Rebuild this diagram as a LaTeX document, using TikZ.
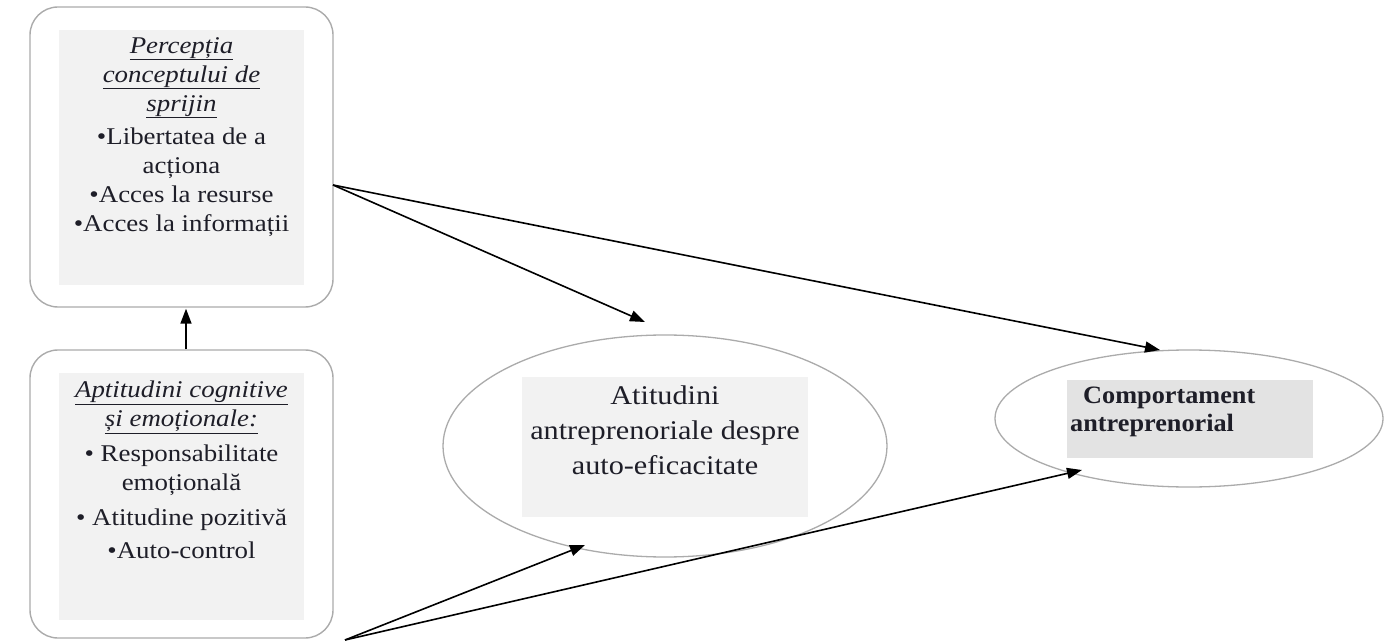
\documentclass[tikz,border=0pt]{standalone}
\usepackage{fontspec}
\setmainfont{Liberation Serif}
\newfontfamily\boxfont[FakeStretch=1.12]{Liberation Serif}
\newfontfamily\ovalfont[FakeStretch=1.12]{Liberation Serif}
\newfontfamily\headfont[FakeStretch=1.05]{Liberation Serif}
\usetikzlibrary{arrows.meta,shapes.geometric}

\definecolor{edgegray}{HTML}{ABABAB}
\definecolor{panel}{HTML}{F2F2F2}
\definecolor{paneldark}{HTML}{E3E3E3}
\definecolor{ink}{HTML}{1E1E28}

\begin{document}
\begin{tikzpicture}[x=1pt,y=-1pt,
  roundbox/.style={draw=edgegray, line width=1.4pt, rounded corners=28pt,
    minimum width=303pt, minimum height=300pt, inner sep=0pt},
  oval/.style={draw=edgegray, line width=1.3pt, ellipse, inner sep=0pt},
  panelbox/.style={fill=#1, inner sep=0pt, draw=none},
  txt/.style={text=ink, align=center, inner sep=0pt, anchor=north},
  link/.style={draw=black, line width=1.6pt, -{Triangle[length=15pt,width=11pt]}}
]
% page
\path[use as bounding box, fill=white] (0,0) rectangle (1392,644);

% left column: two rounded boxes
\node[roundbox, minimum height=300pt] (perc) at (181.5,157) {};
\node[panelbox=panel, minimum width=245pt, minimum height=255pt] (percbg) at (181.5,157.5) {};
\node[txt, font=\fontsize{24}{29}\boxfont] (perctxt) at (181.5,37) {%
  \underline{\itshape Percepția}\\
  \underline{\itshape conceptului de}\\
  \underline{\itshape sprijin}\\[4pt]
  •Libertatea de a\\
  acționa\\
  •Acces la resurse\\
  •Acces la informații};

\node[roundbox, minimum height=288pt] (apt) at (181.5,494) {};
\node[panelbox=panel, minimum width=245pt, minimum height=247pt] (aptbg) at (181.5,496.5) {};
\node[txt, font=\fontsize{24}{29}\boxfont] (apttxt) at (181.5,381) {%
  \underline{\itshape Aptitudini cognitive}\\
  \underline{\itshape și emoționale:}\\[6pt]
  • Responsabilitate\\
  emoțională\\[6pt]
  • Atitudine pozitivă\\[4pt]
  •Auto-control};

% attitudes ellipse
\node[oval, minimum width=444pt, minimum height=222pt] (att) at (665,446) {};
\node[panelbox=panel, minimum width=286pt, minimum height=140pt] (attbg) at (665,447) {};
\node[txt, font=\fontsize{27}{35}\ovalfont] (atttxt) at (665,386) {%
  Atitudini\\
  antreprenoriale despre\\
  auto-eficacitate};

% behaviour ellipse
\node[oval, minimum width=388pt, minimum height=137pt] (beh) at (1189,418.5) {};
\node[panelbox=paneldark, minimum width=246pt, minimum height=78pt] (behbg) at (1190,419) {};
\node[txt, align=left, anchor=north west, font=\fontsize{25}{28}\headfont\bfseries] (behtxt) at (1070,387) {%
  \hspace*{13pt}Comportament\\
  antreprenorial};

% connector end points
\coordinate (percout) at (333,185);
\coordinate (aptout) at (345,640);
\coordinate (atttop) at (645,322);
\coordinate (behtop) at (1160,350);
\coordinate (attlow) at (585,545);
\coordinate (behlow) at (1082,470);

% connectors
\draw[link] ([xshift=4.5pt]apt.north) -- ([xshift=4.5pt,yshift=-1pt]perc.south);
\draw[link] (percout) -- (atttop);
\draw[link] (percout) -- (behtop);
\draw[link] (aptout) -- (attlow);
\draw[link] (aptout) -- (behlow);
\end{tikzpicture}
\end{document}
